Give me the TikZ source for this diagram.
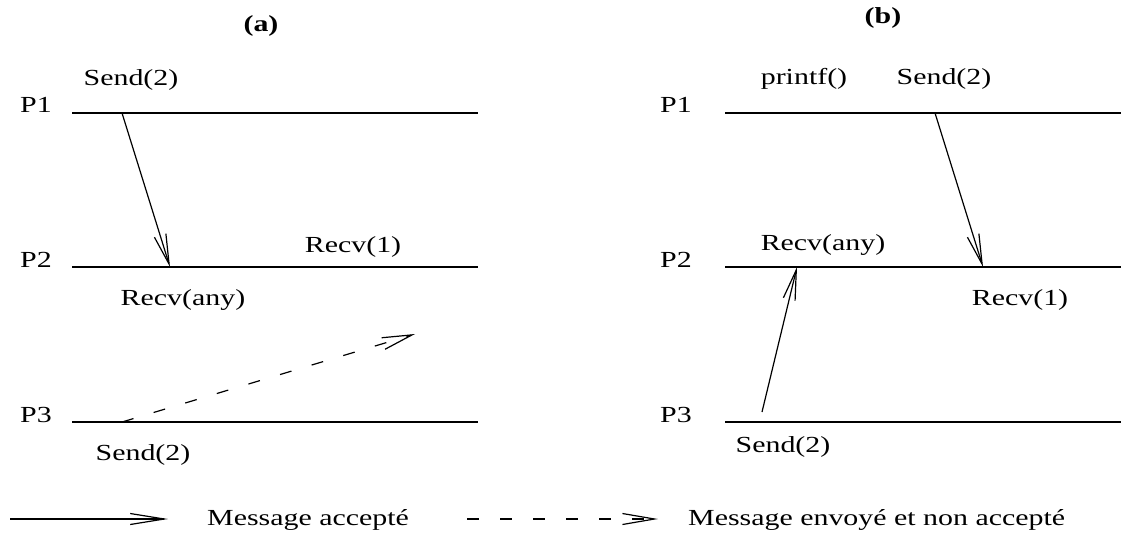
\documentclass[tikz,border=0pt]{standalone}
\usepackage{fontspec}
\setmainfont{Liberation Serif}
\usetikzlibrary{arrows.meta}
\newcommand\tx[1]{\scalebox{1.3}[1]{#1}}
\begin{document}
\begin{tikzpicture}[x=1pt,y=-1pt,
  lbl/.style={font=\fontsize{23}{25}\selectfont, inner sep=0pt, anchor=base},
  ttl/.style={font=\fontsize{23}{25}\selectfont\bfseries, inner sep=0pt, anchor=base},
  proc/.style={line width=2.8pt},
  msg/.style={line width=1.2pt, -{Straight Barb[length=30pt,width=12pt,line width=1.2pt]}},
  lost/.style={msg, dash pattern=on 12pt off 21pt}]
\useasboundingbox (0,0) rectangle (1121,536);
% titles
\node[ttl] (ta) at (261,31) {\tx{(a)}};
\node[ttl] (tb) at (883,23) {\tx{(b)}};
% (a) process lines
\coordinate (a1s) at (72,113); \coordinate (a1e) at (478,113);
\coordinate (a2s) at (72,267); \coordinate (a2e) at (478,267);
\coordinate (a3s) at (72,422); \coordinate (a3e) at (478,422);
\draw[proc] (a1s) -- (a1e);
\draw[proc] (a2s) -- (a2e);
\draw[proc] (a3s) -- (a3e);
\node[lbl] (ap1) at (36,112) {\tx{P1}};
\node[lbl] (ap2) at (36,267) {\tx{P2}};
\node[lbl] (ap3) at (36,422) {\tx{P3}};
\node[lbl] (asend1) at (131,85) {\tx{Send(2)}};
\node[lbl] (arecv1) at (353,252) {\tx{Recv(1)}};
\node[lbl] (arecvany) at (183,305) {\tx{Recv(any)}};
\node[lbl] (asend3) at (143,460) {\tx{Send(2)}};
\coordinate (am1) at (122,113); \coordinate (am1e) at (170,267);
\draw[msg] (am1) -- (am1e);
\coordinate (am2) at (122,422); \coordinate (am2e) at (415,334);
\draw[lost] (am2) -- (am2e);
% (b) process lines
\coordinate (b1s) at (725,113); \coordinate (b1e) at (1121,113);
\coordinate (b2s) at (725,267); \coordinate (b2e) at (1121,267);
\coordinate (b3s) at (725,422); \coordinate (b3e) at (1121,422);
\draw[proc] (b1s) -- (b1e);
\draw[proc] (b2s) -- (b2e);
\draw[proc] (b3s) -- (b3e);
\node[lbl] (bp1) at (676,112) {\tx{P1}};
\node[lbl] (bp2) at (676,267) {\tx{P2}};
\node[lbl] (bp3) at (676,422) {\tx{P3}};
\node[lbl] (bprintf) at (804,84) {\tx{printf()}};
\node[lbl] (bsend1) at (944,84) {\tx{Send(2)}};
\node[lbl] (brecvany) at (823,250) {\tx{Recv(any)}};
\node[lbl] (brecv1) at (1020,305) {\tx{Recv(1)}};
\node[lbl] (bsend3) at (783,452) {\tx{Send(2)}};
\coordinate (bm1) at (935,113); \coordinate (bm1e) at (983,267);
\draw[msg] (bm1) -- (bm1e);
\coordinate (bm2) at (762,412); \coordinate (bm2e) at (797,267);
\draw[msg] (bm2) -- (bm2e);
% legend
\coordinate (l1s) at (10,519); \coordinate (l1e) at (168,519);
\draw[msg, -{Straight Barb[length=34pt,width=11pt,line width=1.2pt]}] (l1s) -- (l1e);
\node[lbl, anchor=base west] (l1t) at (207,525) {\tx{Message accepté}};
\coordinate (l2s) at (467,519); \coordinate (l2e) at (658,519);
\draw[lost, -{Straight Barb[length=32pt,width=11pt,line width=1.2pt]}] (l2s) -- (l2e);
\node[lbl, anchor=base west] (l2t) at (688,525) {\tx{Message envoyé et non accepté}};
\end{tikzpicture}
\end{document}
